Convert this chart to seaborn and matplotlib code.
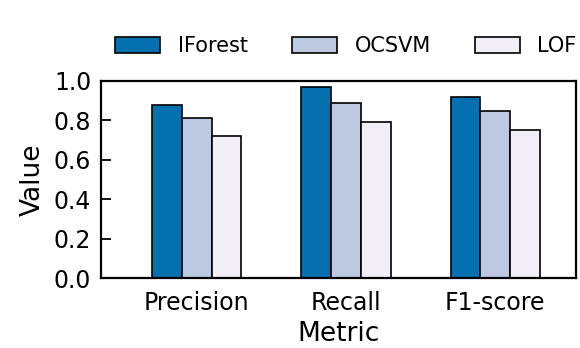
import matplotlib
matplotlib.use("Agg")
import matplotlib.pyplot as plt
import seaborn as sns
import pandas as pd

metrics = ["Precision", "Recall", "F1-score"]
models = ["IForest", "OCSVM", "LOF"]
iforest = [0.88, 0.97, 0.92]
ocsvm = [0.81, 0.89, 0.85]
lof = [0.72, 0.79, 0.75]
colors = ["#0570b0", "#bdc9e1", "#f1eef6"]
yticks = [0.0, 0.2, 0.4, 0.6, 0.8, 1.0]

df = pd.DataFrame({
    "Metric": metrics * 3,
    "Model": [m for m in models for _ in metrics],
    "Value": iforest + ocsvm + lof,
})

sns.set_style("ticks", rc={
    "axes.edgecolor": "black", "text.color": "black",
    "axes.labelcolor": "black", "xtick.color": "black", "ytick.color": "black",
})
plt.rcParams["font.family"] = ["DejaVu Sans"]

fig = plt.figure(figsize=(5.8, 3.48), dpi=100)
ax = fig.add_axes([101 / 580, 1 - 278 / 348, 475 / 580, 197 / 348])

sns.barplot(data=df, x="Metric", y="Value", hue="Model", palette=colors,
            saturation=1, width=0.6, edgecolor="black", linewidth=1.2, ax=ax)

ax.set_ylim(0, 1.0)
ax.set_xlim(-0.64, 2.54)
ax.set_yticks(yticks)
ax.set_yticklabels([f"{v:.1f}" for v in yticks])
ax.tick_params(axis="both", direction="in", labelsize=17, width=1.3, length=7)
ax.tick_params(axis="y", pad=7)
ax.tick_params(axis="x", pad=9)
for s in ax.spines.values():
    s.set_linewidth(1.6)
ax.set_xlabel("Metric", fontsize=19, labelpad=5)
ax.set_ylabel("Value", fontsize=19, labelpad=6)

ax.legend(loc="center", bbox_to_anchor=(346 / 580, 1 - 46 / 348),
          bbox_transform=fig.transFigure, ncol=3, frameon=False,
          fontsize=15, handlelength=2.16, handleheight=0.77, columnspacing=2.1,
          handletextpad=0.85)

fig.savefig("out.png", dpi=100)
